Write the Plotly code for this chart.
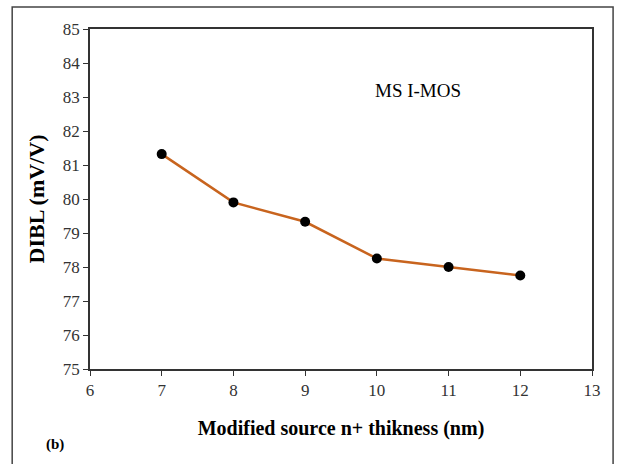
import plotly.graph_objects as go

thickness_nm = [7, 8, 9, 10, 11, 12]
dibl_mv_per_v = [81.32, 79.9, 79.33, 78.25, 78.0, 77.75]
x_ticks = [6, 7, 8, 9, 10, 11, 12, 13]
y_ticks = [75, 76, 77, 78, 79, 80, 81, 82, 83, 84, 85]

fig = go.Figure()
fig.add_trace(go.Scatter(
    x=thickness_nm, y=dibl_mv_per_v, mode="lines+markers",
    line=dict(color="#C8641E", width=2.5),
    marker=dict(color="black", size=10),
    showlegend=False,
))

tick_font = dict(family="Liberation Sans Narrow", size=17, color="#333")

fig.update_layout(
    width=618, height=464,
    margin=dict(l=90, r=26, t=29, b=95),
    paper_bgcolor="white", plot_bgcolor="white",
    xaxis=dict(
        range=[6, 13], tickvals=x_ticks, showgrid=False, zeroline=False,
        showline=True, linecolor="#333", linewidth=1.5, mirror=True,
        ticks="outside", ticklen=5, tickcolor="#333", tickfont=tick_font,
        title=dict(text="<b>Modified source n+ thikness (nm)</b>",
                   font=dict(family="Liberation Serif", size=20, color="black"), standoff=22),
    ),
    yaxis=dict(
        range=[75, 85], tickvals=y_ticks, showgrid=False, zeroline=False,
        showline=True, linecolor="#333", linewidth=1.5, mirror=True,
        ticks="outside", ticklen=5, tickcolor="#333", tickfont=tick_font,
        title=dict(text="<b>DIBL (mV/V)</b>",
                   font=dict(family="Liberation Serif", size=22, color="black"), standoff=12),
    ),
    annotations=[
        dict(text="MS I-MOS", x=(418 - 90) / 502, y=(369 - 90) / 340, xref="paper", yref="paper",
             xanchor="center", yanchor="middle",
             showarrow=False, font=dict(family="Liberation Serif", size=19, color="black")),
        dict(text="<b>(b)</b>", x=(55 - 90) / 502, y=(369 - 444) / 340, xref="paper", yref="paper",
             xanchor="center", yanchor="middle",
             showarrow=False, font=dict(family="Liberation Serif", size=15, color="black")),
    ],
    shapes=[
        dict(type="rect", xref="paper", yref="paper", x0=-0.155, x1=1.042, y0=-0.4, y1=1.065,
             line=dict(color="#444", width=1.5)),
    ],
)

fig.write_html("out.html")
